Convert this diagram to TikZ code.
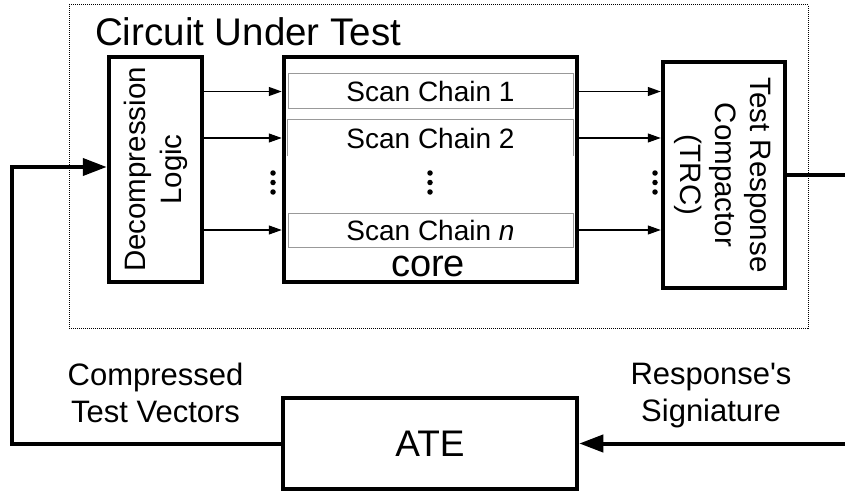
\documentclass[tikz,border=0pt]{standalone}
\usepackage{fontspec}
\setmainfont{Liberation Sans}
\usetikzlibrary{arrows.meta}
\begin{document}
\begin{tikzpicture}[x=1pt,y=1pt,
  thickbox/.style={draw, line width=4.5pt, minimum width=#1, inner sep=0pt},
  chainbox/.style={draw=gray!80, line width=1pt, minimum width=285pt, minimum height=35pt, inner sep=0pt, font=\fontsize{28}{30}\selectfont},
  thinarrow/.style={line width=1.2pt, -{Triangle[length=13pt,width=9pt]}},
  thickline/.style={line width=4pt},
  thickarrow/.style={line width=4pt, -{Triangle[length=24pt,width=17pt]}},
  dotmark/.style={fill=black, circle, inner sep=0pt, minimum size=5.5pt},
  label31/.style={align=center, inner sep=0pt, font=\fontsize{31}{37}\selectfont}
]
\useasboundingbox (0,0) rectangle (845,-492);

% dotted enclosure
\node[draw, line width=1pt, dash pattern=on 1pt off 1pt, minimum width=739pt, minimum height=323pt, inner sep=0pt] (cut) at (438.5,-166.5) {};
\node[anchor=base west, inner sep=0pt, font=\fontsize{38.5}{40}\selectfont] (title) at (95,-46) {Circuit Under Test};

% main blocks
\node[thickbox=93pt, minimum height=225pt] (decomp) at (155.5,-169.5) {};
\node[rotate=90, align=center, inner sep=0pt, font=\fontsize{29.5}{36}\selectfont] (decomptxt) at (decomp.center) {Decompression\\Logic};

\node[thickbox=293pt, minimum height=225pt] (core) at (430.5,-169.5) {};
\node[anchor=base, inner sep=0pt, font=\fontsize{38}{40}\selectfont] (coretxt) at (428,-276) {core};

\node[thickbox=122pt, minimum height=226pt] (trc) at (724,-175) {};
\node[rotate=-90, align=center, inner sep=0pt, font=\fontsize{29.5}{35}\selectfont] (trctxt) at (723,-175) {Test Response\\Compactor\\(TRC)};

% scan chains
\node[chainbox] (sc1) at (430.5,-91.5) {Scan Chain 1};
\node[chainbox, draw=none] (sc2) at (430.5,-138) {Scan Chain 2};
\draw[gray!80, line width=1pt] (sc2.south west) -- (sc2.north west) -- (sc2.north east) -- (sc2.south east);
\node[chainbox, minimum height=34pt] (scn) at (430.5,-230) {Scan Chain \textit{n}};

% arrows into and out of core
\foreach \s in {sc1,sc2,scn}{
  \draw[thinarrow] (decomp.east |- \s) -- (core.west |- \s);
  \draw[thinarrow] (core.east |- \s) -- (trc.west |- \s);
}

% vertical ellipses
\foreach \x/\n in {273/a,430/b,655/c}{
  \node[dotmark] (\n1) at (\x,-173) {};
  \node[dotmark] (\n2) at (\x,-182.5) {};
  \node[dotmark] (\n3) at (\x,-192) {};
}

% ATE
\node[thickbox=294pt, minimum height=91pt, font=\fontsize{37}{40}\selectfont] (ate) at (430,-443.5) {ATE};

% feedback paths
\coordinate (lc) at (12,-167);
\draw[thickarrow] (ate.west) -| (lc) -- (decomp.west |- lc);
\coordinate (rout) at (845,-175);
\draw[thickline] (trc.east |- rout) -- (rout);
\coordinate (rin) at (845,-443.5);
\draw[thickarrow] (rin) -- (ate.east);

% labels
\node[label31] (cmp) at (155.5,-393) {Compressed\\Test Vectors};
\node[label31] (sig) at (711,-395.5) {Response\textquotesingle s\\Signiature};
\end{tikzpicture}
\end{document}
